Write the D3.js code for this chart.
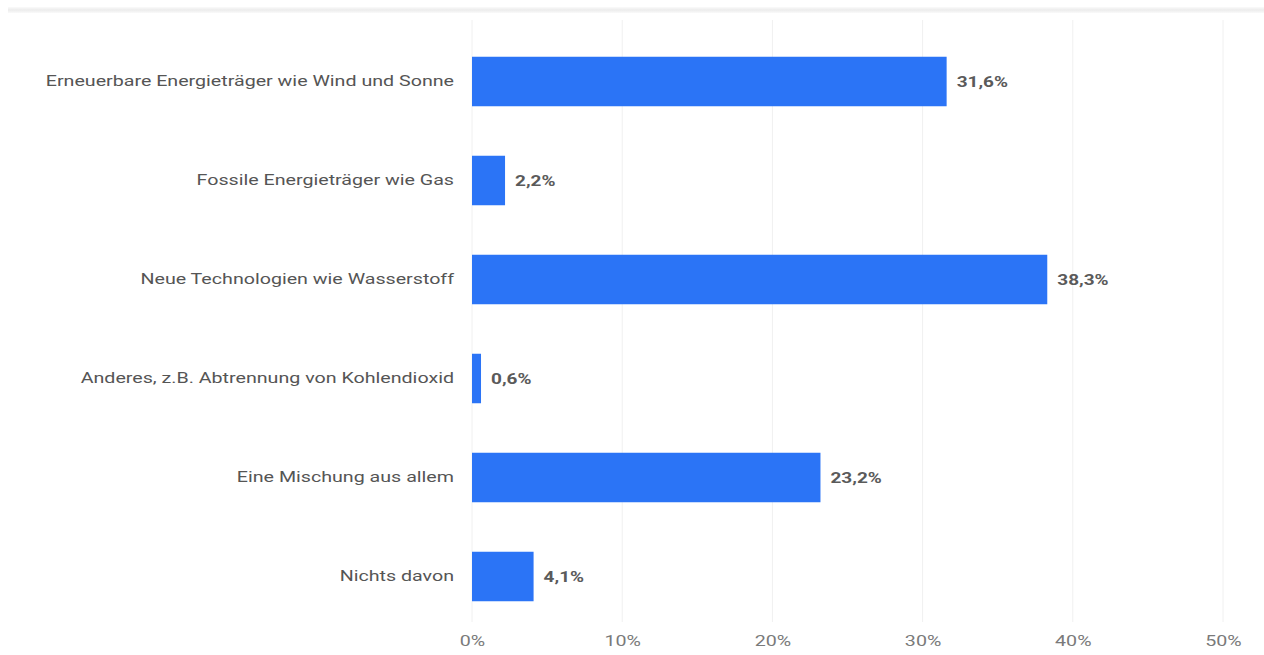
<!DOCTYPE html>
<html><head><meta charset="utf-8">
<script src="https://cdn.jsdelivr.net/npm/d3@7"></script>
<style>html,body{margin:0;padding:0;background:#fff;}svg{display:block;}</style>
</head><body>
<svg id="chart" width="1264" height="655"></svg>
<script>
const categories = [
  "Erneuerbare Energieträger wie Wind und Sonne",
  "Fossile Energieträger wie Gas",
  "Neue Technologien wie Wasserstoff",
  "Anderes, z.B. Abtrennung von Kohlendioxid",
  "Eine Mischung aus allem",
  "Nichts davon"
];
const values = [31.6, 2.2, 38.3, 0.6, 23.2, 4.1];
const tickValues = [0, 10, 20, 30, 40, 50];

const svg = d3.select("#chart");
const font = "Roboto, 'Open Sans', sans-serif";
const stretch = "scale(1.31,1)";

// top separator shadow
const defs = svg.append("defs");
const g1 = defs.append("linearGradient").attr("id","shade").attr("x1",0).attr("y1",0).attr("x2",0).attr("y2",1);
g1.append("stop").attr("offset","0%").attr("stop-color","#fafafa");
g1.append("stop").attr("offset","50%").attr("stop-color","#ececec");
g1.append("stop").attr("offset","100%").attr("stop-color","#fafafa");
svg.append("rect").attr("x",8).attr("y",7).attr("width",1256).attr("height",6).attr("fill","url(#shade)");

const x = d3.scaleLinear().domain([0, 50]).range([472, 1223]);
const y = d3.scaleBand().domain(categories).range([32, 626]).paddingInner(0.5).paddingOuter(0.25);

// gridlines
svg.append("g").selectAll("line").data(tickValues).join("line")
  .attr("x1", d => x(d)).attr("x2", d => x(d))
  .attr("y1", 20).attr("y2", 622)
  .attr("stroke", "#f0f0f0").attr("stroke-width", 1);

// x axis labels
const xAxis = d3.axisBottom(x).tickValues(tickValues).tickFormat(d => d + "%").tickSize(0).tickPadding(0);
const xa = svg.append("g").attr("transform", "translate(0,635)").call(xAxis);
xa.select(".domain").remove();
xa.selectAll("text").attr("font-family", font).attr("font-size", 15).attr("fill", "#7a7a7a")
  .attr("transform", stretch);

// y axis labels
const yAxis = d3.axisLeft(y).tickSize(0).tickPadding(0);
const ya = svg.append("g").attr("transform", "translate(454,0)").call(yAxis);
ya.select(".domain").remove();
ya.selectAll("text").attr("font-family", font).attr("font-size", 15).attr("fill", "#555")
  .attr("transform", stretch);

// bars
svg.append("g").selectAll("rect").data(values).join("rect")
  .attr("x", x(0))
  .attr("y", (d, i) => y(categories[i]))
  .attr("width", d => x(d) - x(0))
  .attr("height", y.bandwidth())
  .attr("fill", "#2b74f6");

// value labels
svg.append("g").selectAll("g").data(values).join("g")
  .attr("transform", (d, i) => `translate(${x(d) + 10},${y(categories[i]) + y.bandwidth() / 2})`)
  .append("text")
  .attr("dy", "0.35em")
  .attr("transform", stretch)
  .attr("font-family", font).attr("font-size", 14.5).attr("font-weight", "bold")
  .attr("fill", "#5a5a5a")
  .text(d => d.toFixed(1).replace(".", ",") + "%");
</script>
</body></html>
